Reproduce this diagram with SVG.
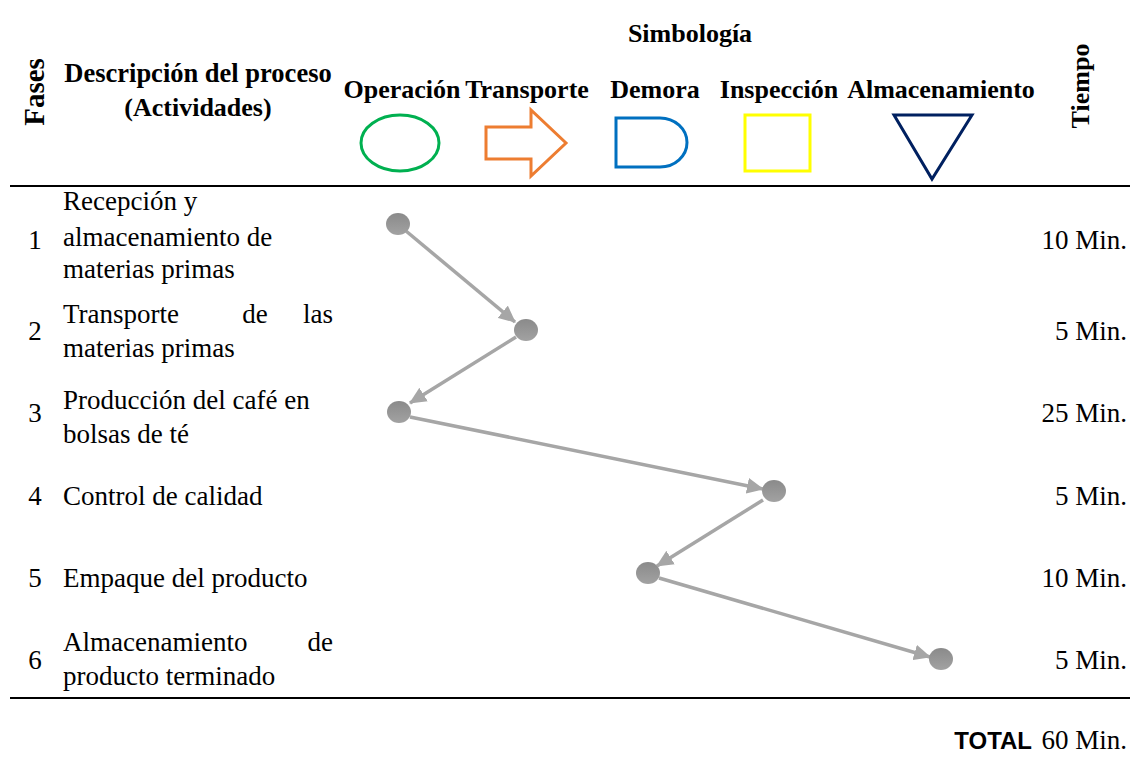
<svg xmlns="http://www.w3.org/2000/svg" width="1131" height="772" viewBox="0 0 1131 772">
<style>
.h{font-family:"Liberation Serif","Times New Roman",serif;font-weight:bold;font-size:26px;fill:#000}
.t{font-family:"Liberation Serif","Times New Roman",serif;font-size:27px;fill:#000}
.rule{stroke:#000;stroke-width:2}
.c{stroke:#A6A6A6;stroke-width:3.5;fill:none;marker-end:url(#ah)}
.n{fill:url(#g)}
</style>
<defs>
<linearGradient id="g" x1="0" y1="0" x2="0" y2="1"><stop offset="0" stop-color="#8a8a8a"/><stop offset="1" stop-color="#a2a2a2"/></linearGradient>
<marker id="ah" markerUnits="userSpaceOnUse" markerWidth="18" markerHeight="16" refX="16" refY="8" orient="auto"><path d="M0,0 L17,8 L0,16 Z" fill="#A6A6A6"/></marker>
</defs>
<rect width="1131" height="772" fill="#fff"/>
<g id="header">
<text class="h" x="690" y="42" text-anchor="middle">Simbología</text>
<text class="h" transform="translate(44,92) rotate(-90)" text-anchor="middle" style="font-size:29px">Fases</text>
<text class="h" transform="translate(1089,86) rotate(-90)" text-anchor="middle">Tiempo</text>
<text class="h" x="198" y="82" text-anchor="middle" style="font-size:26.5px">Descripción del proceso</text>
<text class="h" x="198" y="116" text-anchor="middle">(Actividades)</text>
</g>
<g id="sym-operacion">
<text class="h" x="402" y="98" text-anchor="middle">Operación</text>
<ellipse cx="400" cy="143" rx="39" ry="28" fill="none" stroke="#00B050" stroke-width="3"/>
</g>
<g id="sym-transporte">
<text class="h" x="527" y="98" text-anchor="middle">Transporte</text>
<path d="M486,127 L531,127 L531,110 L566,143 L531,176 L531,159 L486,159 Z" fill="none" stroke="#ED7D31" stroke-width="3"/>
</g>
<g id="sym-demora">
<text class="h" x="655" y="98" text-anchor="middle">Demora</text>
<path d="M616,118 L660,118 A27,24.5 0 0 1 660,167 L616,167 Z" fill="none" stroke="#0070C0" stroke-width="3"/>
</g>
<g id="sym-inspeccion">
<text class="h" x="779" y="98" text-anchor="middle">Inspección</text>
<rect x="745" y="115" width="65" height="56" fill="none" stroke="#FFFF00" stroke-width="3"/>
</g>
<g id="sym-almacenamiento">
<text class="h" x="941" y="98" text-anchor="middle">Almacenamiento</text>
<path d="M894,115 L972,115 L932,179 Z" fill="none" stroke="#002060" stroke-width="3"/>
</g>
<line class="rule" x1="10" y1="186" x2="1130" y2="186"/>
<line class="rule" x1="10" y1="698" x2="1130" y2="698"/>
<g id="row1">
<text class="t" x="35" y="249" text-anchor="middle">1</text>
<text class="t" x="63" y="210">Recepción y</text>
<text class="t" x="63" y="246">almacenamiento de</text>
<text class="t" x="63" y="278">materias primas</text>
<text class="t" x="1127" y="249" text-anchor="end">10 Min.</text>
</g>
<g id="row2">
<text class="t" x="35" y="340" text-anchor="middle">2</text>
<text class="t" x="63" y="323">Transporte</text>
<text class="t" x="255" y="323" text-anchor="middle">de</text>
<text class="t" x="333" y="323" text-anchor="end">las</text>
<text class="t" x="63" y="357">materias primas</text>
<text class="t" x="1127" y="340" text-anchor="end">5 Min.</text>
</g>
<g id="row3">
<text class="t" x="35" y="422" text-anchor="middle">3</text>
<text class="t" x="63" y="409">Producción del café en</text>
<text class="t" x="63" y="443">bolsas de té</text>
<text class="t" x="1127" y="422" text-anchor="end">25 Min.</text>
</g>
<g id="row4">
<text class="t" x="35" y="505" text-anchor="middle">4</text>
<text class="t" x="63" y="505">Control de calidad</text>
<text class="t" x="1127" y="505" text-anchor="end">5 Min.</text>
</g>
<g id="row5">
<text class="t" x="35" y="587" text-anchor="middle">5</text>
<text class="t" x="63" y="587">Empaque del producto</text>
<text class="t" x="1127" y="587" text-anchor="end">10 Min.</text>
</g>
<g id="row6">
<text class="t" x="35" y="669" text-anchor="middle">6</text>
<text class="t" x="63" y="651">Almacenamiento</text>
<text class="t" x="333" y="651" text-anchor="end">de</text>
<text class="t" x="63" y="685">producto terminado</text>
<text class="t" x="1127" y="669" text-anchor="end">5 Min.</text>
</g>
<g id="total">
<text x="1032" y="749" text-anchor="end" font-family="'Liberation Sans',Arial,sans-serif" font-weight="bold" font-size="24">TOTAL</text>
<text class="t" x="1127" y="749" text-anchor="end">60 Min.</text>
</g>
<g id="connectors">
<line class="c" x1="406" y1="231" x2="515" y2="322"/>
<line class="c" x1="516" y1="337" x2="410" y2="403"/>
<line class="c" x1="410" y1="417" x2="763" y2="489"/>
<line class="c" x1="763" y1="500" x2="657" y2="566"/>
<line class="c" x1="659" y1="578" x2="930" y2="657"/>
</g>
<g id="nodes">
<ellipse id="n1" class="n" cx="398" cy="224" rx="12" ry="11"/>
<ellipse id="n2" class="n" cx="526" cy="330" rx="12" ry="11"/>
<ellipse id="n3" class="n" cx="399" cy="412" rx="12" ry="11"/>
<ellipse id="n4" class="n" cx="774" cy="491" rx="12" ry="11"/>
<ellipse id="n5" class="n" cx="648" cy="573" rx="12" ry="11"/>
<ellipse id="n6" class="n" cx="941" cy="659" rx="12" ry="11"/>
</g>
</svg>
